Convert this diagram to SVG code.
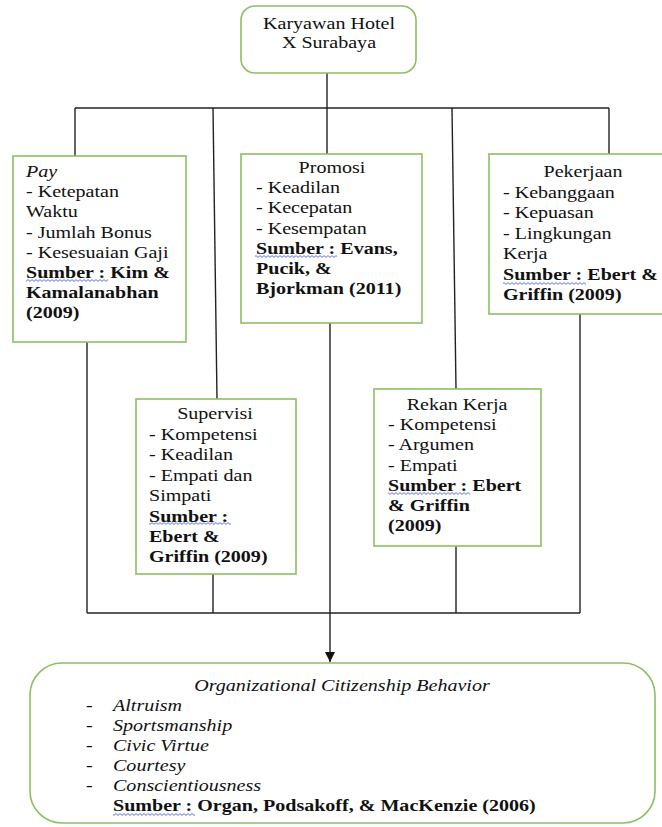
<svg xmlns="http://www.w3.org/2000/svg" width="662" height="827" viewBox="0 0 662 827">
<defs>
<style>
.box{fill:#fff;stroke:#8CBF63;stroke-width:1.6}
.t{font-size:17px;fill:#111}
.b{font-weight:bold}
.i{font-style:italic}
.c{stroke:#222;stroke-width:1.4;fill:none}
</style>
<pattern id="wave" patternUnits="userSpaceOnUse" width="4" height="3">
<path d="M0,0.6 L2,2.4 L4,0.6" fill="none" stroke="#3050e0" stroke-width="0.8"/>
</pattern>
<marker id="arr" viewBox="0 0 10 10" refX="10" refY="5" markerWidth="10" markerHeight="10" markerUnits="userSpaceOnUse" orient="auto">
<path d="M0,0 L10,5 L0,10 z" fill="#111"/>
</marker>
</defs>
<rect width="662" height="827" fill="#fff"/>
<g id="connectors">
<path class="c" d="M327,73 V108"/>
<path class="c" d="M75,108 H609"/>
<path class="c" d="M75,108 V156"/>
<path class="c" d="M213,108 L217,399"/>
<path class="c" d="M327,108 V154"/>
<path class="c" d="M452,108 L456,389"/>
<path class="c" d="M609,108 V154"/>
<path class="c" d="M87,342 V613"/>
<path class="c" d="M213,574 V613"/>
<path class="c" d="M456,546 V613"/>
<path class="c" d="M580,314 V613"/>
<path class="c" d="M87,613 H580"/>
<path class="c" d="M330,323 V662" marker-end="url(#arr)"/>
</g>
<g id="karyawan">
<rect class="box" x="241" y="6" width="175" height="67" rx="14"/>
<text class="t" font-family="Liberation Serif" text-anchor="middle" transform="translate(329,29) scale(1.18 1)"><tspan x="0">Karyawan Hotel</tspan><tspan x="0" dy="19">X Surabaya</tspan></text>
</g>
<g id="pay">
<rect class="box" x="13" y="156" width="173" height="186"/>
<text class="t" font-family="Liberation Serif" transform="translate(26,177) scale(1.18 1)"><tspan x="0" class="i">Pay</tspan><tspan x="0" dy="20.2">- Ketepatan</tspan><tspan x="0" dy="20.2">Waktu</tspan><tspan x="0" dy="20.2">- Jumlah Bonus</tspan><tspan x="0" dy="20.2">- Kesesuaian Gaji</tspan><tspan x="0" dy="20.2" class="b">Sumber : Kim &amp;</tspan><tspan x="0" dy="20.2" class="b">Kamalanabhan</tspan><tspan x="0" dy="20.2" class="b">(2009)</tspan></text>
<rect x="26" y="279" width="82" height="3" fill="url(#wave)"/>
</g>
<g id="promosi">
<rect class="box" x="241" y="154" width="181" height="169"/>
<text class="t" font-family="Liberation Serif" text-anchor="middle" transform="translate(332,173) scale(1.18 1)">Promosi</text>
<text class="t" font-family="Liberation Serif" transform="translate(256,193) scale(1.18 1)"><tspan x="0">- Keadilan</tspan><tspan x="0" dy="20.3">- Kecepatan</tspan><tspan x="0" dy="20.3">- Kesempatan</tspan><tspan x="0" dy="20.3" class="b">Sumber : Evans,</tspan><tspan x="0" dy="20.3" class="b">Pucik, &amp;</tspan><tspan x="0" dy="20.3" class="b">Bjorkman (2011)</tspan></text>
<rect x="255" y="255" width="82" height="3" fill="url(#wave)"/>
</g>
<g id="pekerjaan">
<rect class="box" x="489" y="154" width="180" height="160"/>
<text class="t" font-family="Liberation Serif" text-anchor="middle" transform="translate(583,177) scale(1.18 1)">Pekerjaan</text>
<text class="t" font-family="Liberation Serif" transform="translate(503,198) scale(1.18 1)"><tspan x="0">- Kebanggaan</tspan><tspan x="0" dy="20.5">- Kepuasan</tspan><tspan x="0" dy="20.5">- Lingkungan</tspan><tspan x="0" dy="20.5">Kerja</tspan><tspan x="0" dy="20.5" class="b">Sumber : Ebert &amp;</tspan><tspan x="0" dy="20.5" class="b">Griffin (2009)</tspan></text>
<rect x="503" y="282" width="83" height="3" fill="url(#wave)"/>
</g>
<g id="supervisi">
<rect class="box" x="136" y="399" width="160" height="175"/>
<text class="t" font-family="Liberation Serif" text-anchor="middle" transform="translate(215,419) scale(1.18 1)">Supervisi</text>
<text class="t" font-family="Liberation Serif" transform="translate(149,440) scale(1.18 1)"><tspan x="0">- Kompetensi</tspan><tspan x="0" dy="20.4">- Keadilan</tspan><tspan x="0" dy="20.4">- Empati dan</tspan><tspan x="0" dy="20.4">Simpati</tspan><tspan x="0" dy="20.4" class="b">Sumber :</tspan><tspan x="0" dy="20.4" class="b">Ebert &amp;</tspan><tspan x="0" dy="20.4" class="b">Griffin (2009)</tspan></text>
<rect x="149" y="522" width="82" height="3" fill="url(#wave)"/>
</g>
<g id="rekan">
<rect class="box" x="374" y="389" width="167" height="157"/>
<text class="t" font-family="Liberation Serif" text-anchor="middle" transform="translate(457,410) scale(1.18 1)">Rekan Kerja</text>
<text class="t" font-family="Liberation Serif" transform="translate(388,430) scale(1.18 1)"><tspan x="0">- Kompetensi</tspan><tspan x="0" dy="20.3">- Argumen</tspan><tspan x="0" dy="20.3">- Empati</tspan><tspan x="0" dy="20.3" class="b">Sumber : Ebert</tspan><tspan x="0" dy="20.3" class="b">&amp; Griffin</tspan><tspan x="0" dy="20.3" class="b">(2009)</tspan></text>
<rect x="388" y="492" width="82" height="3" fill="url(#wave)"/>
</g>
<g id="ocb">
<rect class="box" x="30" y="663" width="625" height="160" rx="32"/>
<text class="t i" font-family="Liberation Serif" text-anchor="middle" transform="translate(342,691) scale(1.18 1)">Organizational Citizenship Behavior</text>
<text class="t" font-family="Liberation Serif" transform="translate(86,711) scale(1.18 1)"><tspan x="0">-</tspan><tspan x="0" dy="20">-</tspan><tspan x="0" dy="20">-</tspan><tspan x="0" dy="20">-</tspan><tspan x="0" dy="20">-</tspan></text>
<text class="t" font-family="Liberation Serif" transform="translate(113,711) scale(1.18 1)"><tspan x="0" class="i">Altruism</tspan><tspan x="0" dy="20" class="i">Sportsmanship</tspan><tspan x="0" dy="20" class="i">Civic Virtue</tspan><tspan x="0" dy="20" class="i">Courtesy</tspan><tspan x="0" dy="20" class="i">Conscientiousness</tspan><tspan x="0" dy="20" class="b">Sumber : Organ, Podsakoff, &amp; MacKenzie (2006)</tspan></text>
<rect x="113" y="813" width="82" height="3" fill="url(#wave)"/>
</g>
</svg>
